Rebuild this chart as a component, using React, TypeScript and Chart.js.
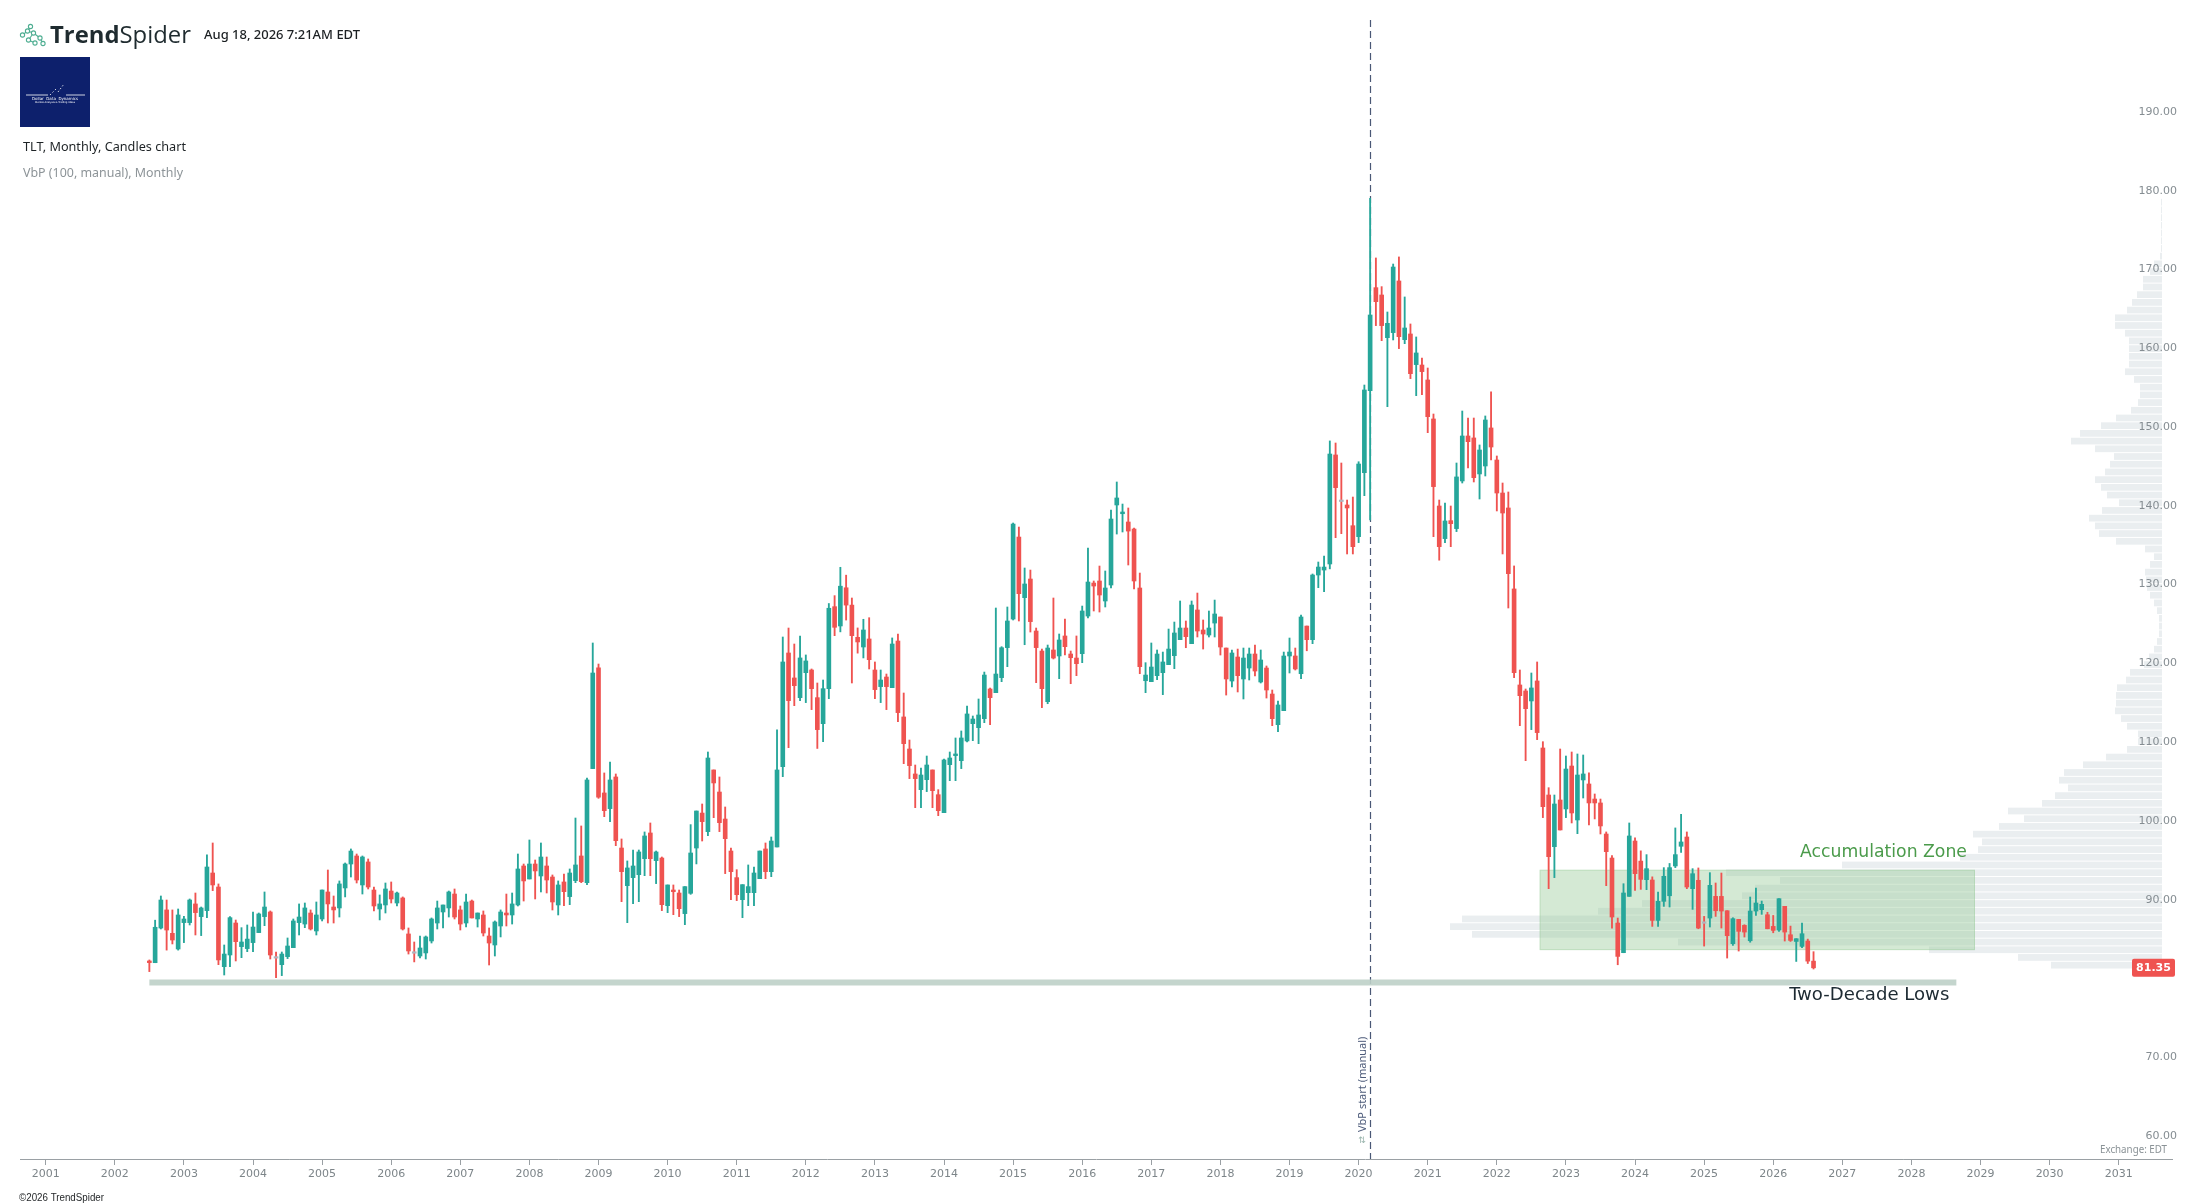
import React, { useEffect, useRef } from "react";
import { Chart, registerables } from "chart.js";

Chart.register(...registerables);

// ---------- DATA ----------
// Monthly candles of TLT, first candle = July 2002
const START_YEAR = 2002;
const START_MONTH = 6; // 0-based month index (July)

const OPEN = [
  82.22, 82.0, 86.4, 88.7, 85.73, 83.74,
  87.09, 87.09, 89.46, 87.85, 88.61, 93.39, 91.61, 81.5, 82.98, 87.04, 84.04, 83.79,
  84.55, 85.82, 87.85, 88.44, 82.6, 81.75, 82.77, 83.91, 87.09, 86.91, 88.31, 86.03,
  87.55, 90.98, 89.07, 88.95, 91.49, 94.53, 95.55, 91.87, 94.79, 91.23, 88.82, 89.33,
  91.1, 89.58, 90.22, 85.65, 83.22, 82.85, 83.24, 84.76, 87.04, 88.44, 88.95, 90.72,
  88.7, 87.04, 89.83, 87.55, 88.06, 85.39, 84.25, 86.66, 88.31, 88.06, 89.33, 94.28,
  92.63, 94.53, 93.01, 94.28, 92.88, 89.33, 92.25, 90.39, 92.42, 95.55, 92.16, 106.64,
  119.42, 103.55, 101.56, 105.58, 96.56, 91.78, 92.8, 93.18, 95.21, 98.47, 94.96, 95.29,
  89.24, 91.23, 90.85, 88.23, 90.81, 96.56, 101.0, 98.64, 106.47, 103.67, 100.24, 96.18,
  92.8, 90.0, 90.89, 90.89, 92.67, 96.44, 93.56, 96.69, 106.89, 121.32, 118.15, 115.65,
  118.82, 119.16, 115.65, 112.35, 116.79, 127.2, 124.75, 129.6, 127.4, 123.31, 122.08, 123.1,
  119.16, 117.05, 118.27, 116.92, 122.84, 113.2, 109.13, 105.96, 103.97, 105.24, 106.47, 103.33,
  101.05, 107.14, 108.29, 107.65, 110.15, 112.35, 111.84, 112.98, 116.75, 116.28, 118.19, 122.0,
  125.63, 136.04, 128.34, 130.71, 124.11, 121.57, 115.14, 121.7, 120.94, 123.48, 121.19, 120.68,
  121.23, 126.01, 130.2, 130.46, 127.92, 129.95, 140.11, 139.0, 137.95, 137.06, 129.57, 117.8,
  117.68, 118.44, 118.82, 119.84, 120.98, 123.01, 124.49, 122.5, 126.78, 124.24, 123.6, 125.12,
  125.89, 121.95, 117.76, 120.81, 118.02, 119.41, 121.19, 117.64, 119.41, 116.11, 112.22, 114.0,
  120.94, 120.94, 118.69, 124.74, 123.01, 131.22, 131.85, 132.62, 146.46, 140.6, 140.11, 137.48,
  136.09, 144.21, 154.62, 167.7, 166.77, 161.35, 161.99, 168.55, 161.1, 161.82, 157.93, 157.88,
  155.98, 151.03, 139.98, 135.84, 138.12, 137.11, 143.16, 148.87, 148.62, 144.05, 145.06, 149.89,
  145.82, 141.63, 139.73, 129.45, 117.26, 116.5, 115.23, 117.77, 109.26, 103.29, 96.73, 102.66,
  101.52, 106.97, 100.12, 105.2, 104.69, 102.78, 102.28, 98.34, 95.29, 87.04, 83.27, 90.42,
  97.45, 94.9, 92.54, 92.5, 87.37, 89.79, 90.5, 94.28, 96.78, 97.96, 91.4, 92.46,
  87.05, 87.67, 90.42, 90.42, 88.6, 84.41, 87.5, 86.74, 84.79, 88.56, 88.73, 88.09,
  86.61, 86.14, 89.16, 85.55, 84.7, 84.07, 84.75, 82.2,
];
const HIGH = [
  82.35, 87.4, 90.47, 89.96, 88.7, 88.82,
  87.89, 90.09, 90.85, 89.07, 95.68, 97.2, 92.0, 84.25, 87.85, 87.42, 86.45, 86.79,
  88.44, 88.31, 90.98, 88.57, 83.36, 83.36, 85.14, 87.55, 89.46, 89.58, 88.7, 89.71,
  91.23, 93.77, 90.47, 92.38, 94.66, 96.44, 95.8, 95.55, 95.17, 91.61, 90.6, 92.12,
  92.25, 90.98, 90.35, 86.41, 84.63, 85.39, 85.39, 87.68, 89.83, 89.33, 91.1, 91.36,
  89.2, 90.72, 89.96, 88.31, 88.57, 86.41, 87.3, 88.7, 90.72, 90.85, 95.8, 94.53,
  97.58, 95.04, 97.2, 95.42, 93.14, 92.38, 93.26, 93.9, 100.37, 99.36, 105.45, 122.59,
  119.92, 106.09, 107.48, 105.96, 97.71, 94.92, 96.31, 96.31, 98.6, 99.74, 96.18, 95.42,
  91.87, 91.87, 91.23, 91.66, 99.53, 101.26, 102.15, 108.75, 106.47, 105.58, 101.77, 96.56,
  93.81, 91.91, 94.41, 94.15, 96.18, 97.2, 97.96, 111.55, 123.35, 124.49, 122.46, 123.48,
  121.07, 119.29, 117.51, 117.89, 127.6, 128.6, 132.2, 131.2, 128.3, 124.5, 125.6, 125.8,
  120.18, 119.16, 118.65, 123.23, 123.73, 116.24, 110.27, 107.1, 106.72, 108.24, 106.47, 103.97,
  107.86, 108.75, 110.53, 111.42, 114.59, 113.32, 115.48, 118.9, 116.87, 127.03, 122.12, 127.16,
  137.82, 137.31, 132.11, 131.85, 124.49, 121.82, 122.33, 128.3, 123.73, 125.63, 121.57, 123.48,
  127.28, 134.65, 130.46, 132.36, 131.73, 139.47, 143.03, 140.23, 139.73, 137.19, 131.47, 120.09,
  122.59, 121.7, 121.44, 124.36, 125.25, 127.92, 125.38, 127.92, 128.93, 125.51, 126.65, 128.04,
  125.89, 121.95, 121.7, 121.82, 121.95, 121.95, 122.33, 121.7, 119.67, 116.62, 115.22, 121.44,
  123.22, 121.95, 126.14, 124.74, 131.35, 132.87, 133.63, 148.24, 147.98, 145.44, 140.74, 141.12,
  145.6, 155.34, 179.04, 171.47, 167.83, 164.61, 170.7, 171.6, 166.52, 163.09, 161.44, 158.77,
  157.5, 151.66, 140.74, 140.36, 139.98, 145.44, 152.04, 151.15, 151.15, 147.73, 151.41, 154.46,
  146.33, 142.9, 141.76, 132.37, 119.16, 116.75, 118.78, 120.18, 110.06, 104.22, 103.29, 109.13,
  108.24, 108.75, 108.5, 108.37, 106.09, 103.42, 102.78, 98.6, 95.6, 87.67, 92.03, 99.74,
  97.84, 96.2, 95.72, 92.9, 90.97, 94.07, 94.6, 99.11, 100.84, 98.6, 93.94, 94.03,
  87.88, 93.43, 92.12, 93.39, 88.6, 87.71, 87.5, 86.82, 90.34, 91.48, 89.83, 88.4,
  88.0, 90.13, 89.16, 86.65, 85.05, 87.04, 85.0, 83.4,
];
const LOW = [
  80.87, 82.0, 86.28, 83.6, 84.38, 83.6,
  84.55, 86.79, 85.52, 85.44, 87.72, 91.15, 81.75, 80.44, 81.5, 82.22, 82.64, 83.4,
  83.4, 85.82, 86.7, 82.47, 80.1, 80.36, 82.52, 83.91, 85.52, 86.45, 86.15, 85.52,
  87.3, 87.04, 87.04, 87.8, 90.35, 92.88, 92.12, 90.72, 91.36, 88.57, 87.43, 88.31,
  89.58, 89.2, 86.15, 83.1, 82.1, 82.6, 82.47, 84.5, 86.28, 86.41, 87.8, 87.55,
  86.15, 86.53, 87.68, 86.53, 85.39, 81.71, 82.85, 85.27, 86.66, 86.91, 89.2, 89.83,
  92.63, 90.09, 90.98, 90.85, 88.69, 88.06, 89.24, 89.37, 92.16, 92.16, 91.91, 106.64,
  102.87, 100.54, 99.91, 96.86, 89.75, 87.08, 89.5, 89.75, 93.05, 93.05, 92.04, 88.61,
  88.35, 88.1, 87.85, 86.83, 90.68, 94.54, 97.45, 98.13, 100.41, 98.64, 93.31, 90.0,
  89.88, 87.72, 89.24, 89.24, 92.67, 92.67, 92.92, 96.69, 105.62, 109.3, 114.63, 115.27,
  115.02, 114.13, 109.2, 110.06, 115.52, 123.52, 124.0, 125.5, 117.51, 121.3, 120.69, 119.29,
  115.52, 115.02, 114.13, 116.92, 112.6, 107.27, 105.37, 101.68, 101.68, 103.72, 101.68, 100.67,
  101.05, 105.11, 105.11, 106.64, 110.02, 110.19, 109.81, 112.47, 112.22, 116.28, 117.68, 119.58,
  125.51, 125.38, 122.37, 123.98, 117.55, 114.38, 114.88, 120.56, 118.06, 121.06, 117.42, 118.44,
  120.09, 125.76, 126.65, 126.52, 127.16, 129.57, 136.42, 136.68, 132.49, 129.44, 118.69, 116.28,
  117.68, 117.93, 116.03, 119.84, 119.33, 123.01, 121.99, 122.5, 123.35, 121.82, 123.35, 123.35,
  121.06, 115.98, 117.0, 116.37, 115.48, 117.89, 118.4, 117.51, 115.6, 112.09, 111.33, 114.0,
  118.78, 119.16, 118.06, 121.6, 122.5, 129.61, 129.1, 132.0, 135.96, 136.47, 133.89, 133.89,
  135.33, 141.29, 138.2, 162.88, 160.97, 152.59, 161.06, 159.96, 160.59, 156.15, 153.99, 154.12,
  149.29, 136.09, 133.1, 135.33, 134.82, 136.73, 142.9, 144.81, 143.03, 140.87, 143.79, 145.82,
  139.35, 133.89, 127.03, 118.19, 112.09, 107.65, 111.59, 110.32, 100.42, 91.4, 92.8, 98.85,
  100.42, 99.74, 98.38, 102.91, 99.49, 100.25, 98.34, 91.78, 86.4, 81.74, 83.27, 90.42,
  91.19, 91.31, 91.27, 86.61, 86.61, 89.15, 89.07, 94.07, 96.0, 91.4, 88.77, 86.31,
  84.11, 86.53, 87.88, 86.4, 82.59, 84.2, 83.48, 85.26, 84.6, 88.01, 88.14, 86.3,
  85.8, 85.98, 84.75, 84.7, 82.16, 83.9, 81.9, 81.2,
];
const CLOSE = [
  82.01, 86.5, 89.96, 86.15, 84.88, 88.06,
  87.55, 89.96, 88.36, 88.95, 94.15, 91.87, 82.35, 83.1, 87.72, 84.67, 84.63, 85.0,
  86.53, 88.19, 89.07, 82.98, 82.58, 83.1, 84.12, 87.3, 87.8, 88.95, 86.28, 88.06,
  91.23, 89.46, 88.7, 92.0, 94.53, 96.18, 92.5, 95.42, 91.61, 89.2, 89.46, 91.36,
  90.09, 90.85, 86.28, 83.49, 83.2, 83.87, 85.27, 87.55, 88.95, 89.33, 90.98, 87.8,
  86.91, 89.71, 87.68, 88.31, 85.77, 84.5, 87.17, 88.44, 88.06, 89.46, 93.9, 92.38,
  94.53, 93.65, 95.42, 92.5, 89.71, 91.87, 91.02, 93.39, 94.41, 92.29, 105.2, 118.78,
  103.0, 101.3, 105.2, 97.49, 93.56, 94.03, 94.28, 96.06, 98.09, 95.21, 96.06, 89.37,
  91.87, 91.02, 88.86, 91.66, 95.93, 101.26, 99.91, 107.99, 104.82, 99.78, 97.75, 93.56,
  90.64, 91.91, 91.66, 93.39, 96.18, 93.56, 97.45, 106.47, 120.18, 115.27, 117.17, 120.69,
  120.31, 116.79, 111.59, 116.79, 127.0, 124.58, 129.8, 127.4, 123.52, 122.72, 124.24, 120.47,
  116.67, 117.89, 117.05, 122.46, 113.75, 109.81, 107.02, 105.37, 105.83, 107.1, 103.84, 101.3,
  107.74, 107.99, 108.5, 110.53, 113.58, 112.94, 113.45, 118.52, 115.65, 118.65, 121.99, 125.38,
  137.69, 128.85, 130.08, 125.3, 122.0, 116.79, 121.95, 120.68, 122.97, 122.12, 120.72, 119.96,
  126.65, 130.33, 129.82, 128.68, 129.57, 138.33, 141.0, 139.22, 136.8, 130.46, 119.58, 118.52,
  119.54, 121.19, 120.18, 121.82, 123.86, 124.49, 123.39, 127.41, 124.11, 123.73, 124.49, 126.27,
  122.08, 118.02, 121.32, 118.44, 120.68, 121.19, 119.03, 120.43, 116.62, 112.98, 114.72, 120.94,
  121.44, 119.29, 125.89, 123.01, 131.22, 132.23, 132.23, 146.58, 142.31, 140.55, 139.73, 134.82,
  145.31, 154.71, 164.23, 165.92, 162.88, 163.17, 170.32, 161.48, 162.58, 156.78, 159.41, 157.04,
  151.32, 142.44, 134.82, 138.08, 137.74, 143.67, 148.87, 148.15, 143.58, 147.09, 150.9, 147.47,
  141.63, 139.09, 131.39, 118.82, 115.9, 114.25, 116.88, 111.21, 101.81, 95.46, 102.15, 98.85,
  106.59, 101.01, 105.83, 105.96, 102.28, 102.28, 99.36, 96.1, 87.8, 82.8, 90.85, 98.09,
  93.3, 92.58, 93.94, 87.37, 89.79, 92.97, 94.07, 95.72, 97.33, 91.61, 93.3, 86.4,
  87.0, 91.82, 88.6, 88.56, 85.43, 87.59, 85.98, 85.89, 88.56, 89.58, 89.41, 86.31,
  86.1, 90.13, 85.89, 84.83, 85.05, 85.68, 82.2, 81.35,
];

// Volume-by-price (100 rows, lowest price row first), from VbP start onward
const VBP_START = 2020 + 2 / 12; // March 2020 candle
const VBP_VOLUME = [
  111, 144, 233, 484, 690, 712, 700, 564, 520, 420,
  407, 382, 436, 320, 202, 184, 180, 189, 163, 138,
  154, 120, 107, 94, 103, 98, 79, 56, 35, 24,
  24, 35, 41, 47, 46, 46, 45, 36, 32, 18,
  13, 8, 5, 3, 3, 3, 5, 8, 12, 15,
  16, 17, 12, 8, 17, 46, 63, 67, 73, 60,
  43, 55, 61, 67, 57, 52, 48, 67, 91, 82,
  61, 46, 31, 24, 22, 22, 28, 37, 33, 33,
  33, 33, 37, 47, 47, 35, 30, 25, 19, 19,
  12, 8, 2, 1, 1, 1, 1, 1, 1, 1,
];

// Annotations
const ZONE_DATES = [2022.62, 2028.92];
const ZONE_PRICES = [83.6, 93.8];
const LOWS_DATES = [2002.5, 2028.65];
const LOWS_PRICE = 79.5;

// Axis ticks
const YEAR_TICKS = [
  2001, 2002, 2003, 2004, 2005, 2006, 2007, 2008, 2009, 2010,
  2011, 2012, 2013, 2014, 2015, 2016, 2017, 2018, 2019, 2020,
  2021, 2022, 2023, 2024, 2025, 2026, 2027, 2028, 2029, 2030, 2031,
];
const PRICE_TICKS = [60, 70, 90, 100, 110, 120, 130, 140, 150, 160, 170, 180, 190];

// ---------- STYLE ----------
const W = 2192;
const H = 1203;
const UP = "#26a69a";
const DOWN = "#ef5350";
const DOJI = "#b2b5be";
const X_MIN = 2000.628;
const X_MAX = 2031.771;
const Y_MIN = 57.08;
const Y_MAX = 201.68;
const XV_MIN = -10;
const XV_MAX = 2142;

function isDoji(i: number) {
  return Math.abs(CLOSE[i] - OPEN[i]) < 0.06;
}
function bodyColor(i: number) {
  if (isDoji(i)) return DOJI;
  return CLOSE[i] >= OPEN[i] ? UP : DOWN;
}
function wickColor(i: number) {
  if (isDoji(i)) return DOWN;
  return CLOSE[i] >= OPEN[i] ? UP : DOWN;
}

function fitText(
  ctx: CanvasRenderingContext2D,
  text: string,
  x: number,
  y: number,
  font: string,
  color: string,
  align: CanvasTextAlign,
  targetW?: number
) {
  ctx.save();
  ctx.font = font;
  ctx.fillStyle = color;
  ctx.textBaseline = "middle";
  ctx.textAlign = align;
  let s = 1;
  if (targetW) {
    const w = ctx.measureText(text).width;
    s = Math.max(0.8, Math.min(1.25, targetW / w));
  }
  ctx.translate(x, y);
  ctx.scale(s, 1);
  ctx.fillText(text, 0, 0);
  ctx.restore();
}

const overlayPlugin = {
  id: "overlays",
  beforeDraw(chart: any) {
    const ctx: CanvasRenderingContext2D = chart.ctx;
    const y = chart.scales.y;
    const x = chart.scales.x;
    const xv = chart.scales.xv;
    // VbP range from the candles after the start
    let lo = Infinity;
    let hi = -Infinity;
    for (let i = 0; i < OPEN.length; i++) {
      const t = START_YEAR + (START_MONTH + i) / 12;
      if (t >= VBP_START - 1e-6) {
        lo = Math.min(lo, LOW[i]);
        hi = Math.max(hi, HIGH[i]);
      }
    }
    const step = (hi - lo) / VBP_VOLUME.length;
    ctx.save();
    ctx.fillStyle = "#eaeef0";
    const xr = xv.getPixelForValue(0);
    for (let i = 0; i < VBP_VOLUME.length; i++) {
      const p0 = lo + i * step;
      const p1 = p0 + step;
      const yt = y.getPixelForValue(p1);
      const yb = y.getPixelForValue(p0);
      const xl = xv.getPixelForValue(VBP_VOLUME[i]);
      ctx.fillRect(xl, yt + 0.5, xr - xl, yb - yt - 1);
    }
    // accumulation zone
    const zx0 = x.getPixelForValue(ZONE_DATES[0]);
    const zx1 = x.getPixelForValue(ZONE_DATES[1]);
    const zy0 = y.getPixelForValue(ZONE_PRICES[1]);
    const zy1 = y.getPixelForValue(ZONE_PRICES[0]);
    ctx.fillStyle = "rgba(148,200,148,0.4)";
    ctx.fillRect(zx0, zy0, zx1 - zx0, zy1 - zy0);
    ctx.strokeStyle = "rgba(148,200,148,0.35)";
    ctx.lineWidth = 1;
    ctx.strokeRect(zx0 + 0.5, zy0 + 0.5, zx1 - zx0 - 1, zy1 - zy0 - 1);
    ctx.restore();
  },
  beforeDatasetsDraw(chart: any) {
    const ctx: CanvasRenderingContext2D = chart.ctx;
    const area = chart.chartArea;
    const lx = Math.round(chart.scales.x.getPixelForValue(VBP_START)) + 0.5;
    ctx.save();
    ctx.strokeStyle = "#4a5876";
    ctx.lineWidth = 1.2;
    ctx.setLineDash([7, 4]);
    ctx.beginPath();
    ctx.moveTo(lx, area.top);
    ctx.lineTo(lx, area.bottom);
    ctx.stroke();
    ctx.restore();
  },
  afterDraw(chart: any) {
    const ctx: CanvasRenderingContext2D = chart.ctx;
    const x = chart.scales.x;
    const y = chart.scales.y;
    const area = chart.chartArea;
    const condensed = '"DejaVu Sans Condensed", "Liberation Sans Narrow", "DejaVu Sans", sans-serif';

    // ---- header: logo icon ----
    ctx.save();
    const pts = [
      [22.5, 35], [27.5, 31], [30.5, 26.5], [33.5, 33], [28.5, 40], [35, 43], [40, 38], [43, 43.5],
    ];
    const links = [[0, 1], [1, 2], [1, 3], [3, 4], [3, 6], [4, 5], [6, 7]];
    ctx.strokeStyle = "#4fae92";
    ctx.lineWidth = 1.1;
    for (const [a, b] of links) {
      ctx.beginPath();
      ctx.moveTo(pts[a][0], pts[a][1]);
      ctx.lineTo(pts[b][0], pts[b][1]);
      ctx.stroke();
    }
    ctx.fillStyle = "#ffffff";
    for (const [px, py] of pts) {
      ctx.beginPath();
      ctx.arc(px, py, 2.1, 0, Math.PI * 2);
      ctx.fill();
      ctx.stroke();
    }
    ctx.restore();

    // TrendSpider wordmark
    ctx.save();
    ctx.textBaseline = "alphabetic";
    ctx.fillStyle = "#1f2b2f";
    ctx.font = '700 23px "Open Sans", "Noto Sans", sans-serif';
    const w1 = ctx.measureText("Trend").width;
    ctx.font = '400 23px "Open Sans", "Noto Sans", sans-serif';
    const w2 = ctx.measureText("Spider").width;
    const s = 141 / (w1 + w2);
    ctx.translate(50, 43);
    ctx.scale(s, 1);
    ctx.font = '700 23px "Open Sans", "Noto Sans", sans-serif';
    ctx.fillText("Trend", 0, 0);
    ctx.font = '400 23px "Open Sans", "Noto Sans", sans-serif';
    ctx.fillText("Spider", w1, 0);
    ctx.restore();

    fitText(ctx, "Aug 18, 2026 7:21AM EDT", 204, 36, '500 12px "Noto Sans", sans-serif', "#1b1f22", "left", 156);

    // blue badge
    ctx.save();
    ctx.fillStyle = "#0d206c";
    ctx.fillRect(20, 57, 70, 70);
    ctx.strokeStyle = "#ffffff";
    ctx.lineWidth = 0.8;
    ctx.beginPath();
    ctx.moveTo(26, 95);
    ctx.lineTo(48, 95);
    ctx.moveTo(66, 95);
    ctx.lineTo(85, 95);
    ctx.stroke();
    ctx.setLineDash([1.5, 2]);
    ctx.beginPath();
    ctx.moveTo(50, 95);
    ctx.lineTo(57, 88);
    ctx.moveTo(58, 92);
    ctx.lineTo(64, 84);
    ctx.stroke();
    ctx.setLineDash([]);
    ctx.fillStyle = "#ffffff";
    ctx.font = '4px "DejaVu Sans", sans-serif';
    ctx.textAlign = "center";
    ctx.textBaseline = "middle";
    ctx.fillText("Dollar  Data  Dynamics", 55, 98.5);
    ctx.font = '2.5px "DejaVu Sans", sans-serif';
    ctx.fillText("Market Analysis & Trading Ideas", 55, 102.5);
    ctx.restore();

    fitText(ctx, "TLT, Monthly, Candles chart", 23, 148, '12px "Noto Sans", sans-serif', "#1e2326", "left", 163);
    fitText(ctx, "VbP (100, manual), Monthly", 23, 174, '12px "Noto Sans", sans-serif', "#8d9498", "left", 160);

    // ---- annotations ----
    const zx1 = x.getPixelForValue(ZONE_DATES[1]);
    const zy0 = y.getPixelForValue(ZONE_PRICES[1]);
    fitText(ctx, "Accumulation Zone", zx1 - 8, zy0 - 17, "18px " + condensed, "#4b9b4b", "right", 167);
    const lx1 = x.getPixelForValue(LOWS_DATES[1]);
    const ly = y.getPixelForValue(LOWS_PRICE);
    fitText(ctx, "Two-Decade Lows", lx1 - 7, ly + 13, "18px " + condensed, "#1d2a32", "right", 160);

    // VbP start text (rotated)
    const vx = x.getPixelForValue(VBP_START);
    ctx.save();
    ctx.translate(vx - 7.5, area.bottom - 27);
    ctx.rotate(-Math.PI / 2);
    ctx.font = '11px "Noto Sans", "DejaVu Sans", sans-serif';
    ctx.fillStyle = "#4d5b7a";
    ctx.textAlign = "left";
    ctx.textBaseline = "middle";
    ctx.fillText("VbP start (manual)", 0, 0);
    ctx.fillStyle = "#9ab5ad";
    ctx.font = '9px "DejaVu Sans", sans-serif';
    ctx.textAlign = "right";
    ctx.fillText("\u21C4", -4, 0);
    ctx.restore();

    // price label
    const last = CLOSE.length - 1;
    const py = y.getPixelForValue(CLOSE[last]);
    ctx.save();
    ctx.fillStyle = DOWN;
    const bx = area.right - 40;
    ctx.beginPath();
    (ctx as any).roundRect(bx, py - 9, 43, 18, 2);
    ctx.fill();
    ctx.fillStyle = "#ffffff";
    ctx.font = 'bold 11px "DejaVu Sans", sans-serif';
    ctx.textAlign = "center";
    ctx.textBaseline = "middle";
    ctx.fillText(CLOSE[last].toFixed(2), bx + 21.5, py + 0.5);
    ctx.restore();

    // footer texts
    fitText(ctx, "Exchange: EDT", area.right - 5, area.bottom - 9, '10px "Noto Sans", sans-serif', "#8a9296", "right", 67);
    fitText(ctx, "\u00A92026 TrendSpider", 19, 1198, '10px "Liberation Sans", Arial, sans-serif', "#26292b", "left", 85);
  },
};

export default function App() {
  const ref = useRef<HTMLCanvasElement | null>(null);
  useEffect(() => {
    document.body.style.margin = "0";
    const canvas = ref.current;
    if (!canvas) return;
    const months = OPEN.map((_, i) => START_YEAR + (START_MONTH + i) / 12);
    const chart = new Chart(canvas, {
      type: "bar",
      data: {
        datasets: [
          {
            type: "line",
            data: [
              { x: LOWS_DATES[0], y: LOWS_PRICE },
              { x: LOWS_DATES[1], y: LOWS_PRICE },
            ],
            borderColor: "rgba(190,208,200,0.9)",
            borderWidth: 6,
            pointRadius: 0,
            borderCapStyle: "butt",
            order: 3,
          } as any,
          {
            type: "bar",
            data: months.map((m, i) => ({ x: m, y: [LOW[i], HIGH[i]] })),
            backgroundColor: months.map((_, i) => wickColor(i)),
            barThickness: 1.2,
            grouped: false,
            order: 2,
          } as any,
          {
            type: "bar",
            data: months.map((m, i) => ({ x: m, y: [OPEN[i], CLOSE[i]] })),
            backgroundColor: months.map((_, i) => bodyColor(i)),
            barThickness: 4,
            minBarLength: 1.5,
            grouped: false,
            order: 1,
          } as any,
        ],
      },
      options: {
        animation: false,
        responsive: true,
        maintainAspectRatio: false,
        events: [],
        layout: { padding: { top: 20, left: 20, right: 20, bottom: 0 } },
        plugins: { legend: { display: false }, tooltip: { enabled: false }, title: { display: false } },
        scales: {
          x: {
            type: "linear",
            min: X_MIN,
            max: X_MAX,
            offset: false,
            position: "bottom",
            afterBuildTicks: (s: any) => {
              s.ticks = YEAR_TICKS.map((v) => ({ value: v }));
            },
            afterFit: (s: any) => {
              s.height = 44;
            },
            ticks: {
              autoSkip: false,
              maxRotation: 0,
              padding: 3,
              color: "#7d8589",
              font: { family: '"DejaVu Sans", sans-serif', size: 11 },
              callback: (v: any) => String(v),
            },
            grid: { display: true, drawOnChartArea: false, drawTicks: true, tickLength: 6, color: "#9aa0a4", offset: false },
            border: { display: true, color: "#9aa0a4", width: 1 },
          },
          y: {
            type: "linear",
            position: "right",
            min: Y_MIN,
            max: Y_MAX,
            afterBuildTicks: (s: any) => {
              s.ticks = PRICE_TICKS.map((v) => ({ value: v }));
            },
            afterFit: (s: any) => {
              s.width = 0;
            },
            ticks: {
              mirror: true,
              padding: 5,
              color: "#858d92",
              font: { family: '"DejaVu Sans", sans-serif', size: 11 },
              callback: (v: any) => Number(v).toFixed(2),
            },
            grid: { display: false },
            border: { display: false },
          },
          // volume axis of the VbP histogram: laid out across the plot, drawn invisibly
          xv: {
            type: "linear",
            axis: "x",
            position: "top",
            display: true,
            reverse: true,
            offset: false,
            min: XV_MIN,
            max: XV_MAX,
            afterBuildTicks: (s: any) => {
              s.ticks = [{ value: XV_MIN }, { value: XV_MAX }];
              s.min = XV_MIN;
              s.max = XV_MAX;
            },
            afterFit: (s: any) => {
              s.height = 0;
            },
            ticks: { display: false },
            grid: { display: false, drawTicks: false, offset: false },
            border: { display: false },
          },
        },
      } as any,
      plugins: [overlayPlugin],
    });
    return () => chart.destroy();
  }, []);
  return (
    <div style={{ position: "fixed", left: 0, top: 0, width: W, height: H, background: "#ffffff" }}>
      <canvas ref={ref} />
    </div>
  );
}
